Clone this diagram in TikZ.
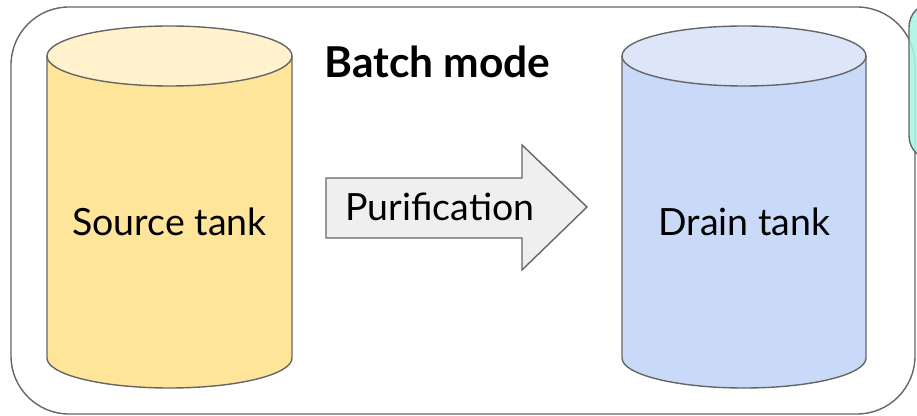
\documentclass[tikz,border=0pt]{standalone}
\usepackage{fontspec}
\setmainfont{Lato}
\usepackage{xcolor}
\usetikzlibrary{positioning, math}
\definecolor{srcbody}{HTML}{FFE599}
\definecolor{srctop}{HTML}{FFF2CC}
\definecolor{drnbody}{HTML}{C9DAF8}
\definecolor{drntop}{HTML}{DDE6F8}
\definecolor{edgegray}{HTML}{666666}
\definecolor{pipegray}{HTML}{EFEFEF}
\definecolor{mint}{HTML}{A9F5E4}

\tikzset{
  outline/.style={draw=edgegray, line width=1.4},
  label/.style={font=\fontsize{37.5}{44}\selectfont, inner sep=0pt}
}

\begin{document}
\begin{tikzpicture}[x=1pt,y=1pt]
\tikzmath{
\rx=122.5;
\ry=30;
}
\useasboundingbox (0,0) rectangle (917,415);

% frame of the batch block
\draw[outline, rounded corners=58] (11,1) rectangle (915,408);

% next block, only its edge is in view
\draw[outline, fill=mint, fill opacity=0.88, rounded corners=24] (909,255) rectangle (970,412);

\node[label, font=\fontsize{42.5}{50}\selectfont\bfseries] (batch) at (437.5,353) {Batch mode};

% source tank
\draw[outline, fill=srcbody] (47,359) -- (47,57) arc[start angle=180, end angle=360, x radius=\rx, y radius=\ry] -- (292,359);
\draw[outline, fill=srctop] (169.5,359) ellipse [x radius=\rx, y radius=\ry];
\node[label] (source) at (169.5,193) {Source tank};

% drain tank
\draw[outline, fill=drnbody] (622,359) -- (622,57) arc[start angle=180, end angle=360, x radius=122, y radius=\ry] -- (866,359);
\draw[outline, fill=drntop] (744,359) ellipse [x radius=122, y radius=\ry];
\node[label] (drain) at (744.5,193) {Drain tank};

% purification step
\draw[outline, fill=pipegray] (326,177) -- (326,237) -- (522,237) -- (522,270) -- (587,208) -- (522,145) -- (522,177) -- cycle;
\node[label] (purify) at (440,208) {Purification};
\end{tikzpicture}
\end{document}
